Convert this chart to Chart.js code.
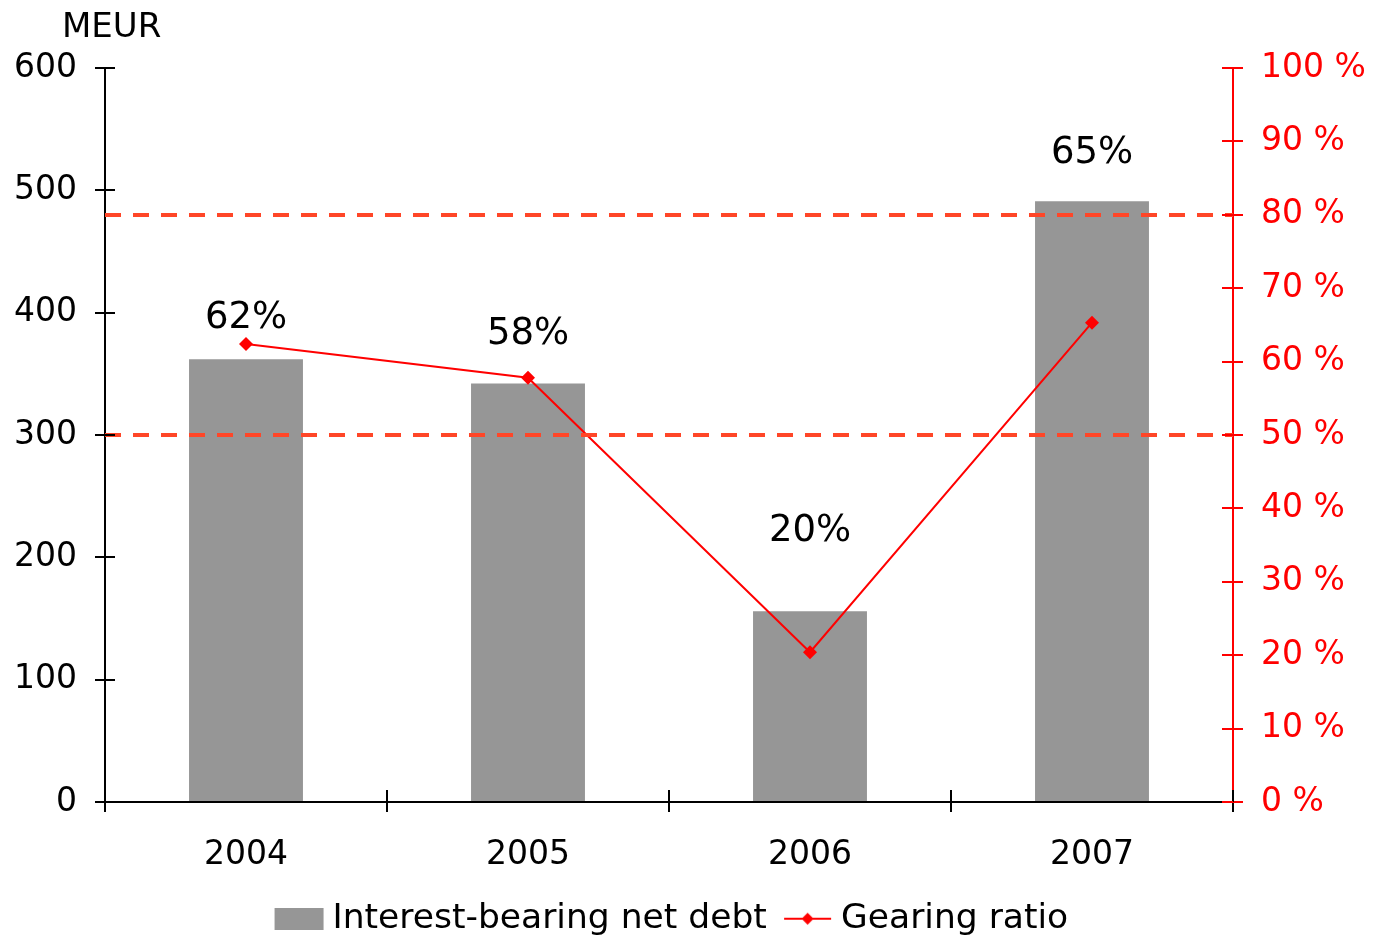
<!DOCTYPE html>
<html>
<head>
<meta charset="utf-8">
<script src="https://cdn.jsdelivr.net/npm/chart.js@4"></script>
<style>
html,body{margin:0;padding:0;background:#fff;}
#wrap{width:1382px;height:936px;position:relative;}
</style>
</head>
<body>
<div id="wrap"><canvas id="c" width="1382" height="936"></canvas></div>
<script>
const categories = ['2004', '2005', '2006', '2007'];
const netDebt = [362, 342, 156, 491];
const gearing = [62.4, 57.8, 20.4, 65.3];
const leftTicks = [0, 100, 200, 300, 400, 500, 600];
const rightTicks = [0, 10, 20, 30, 40, 50, 60, 70, 80, 90, 100];
const referenceLevels = [80, 50];
const labelLevels = [398, 385, 224, 533];

const FONT = 'DejaVu Sans, Verdana, sans-serif';
const RED = '#ff0000';
const BAR = '#969696';

// legend symbols: 64px wide canvases, symbol drawn at x 14..63
function makeBox() {
  const c = document.createElement('canvas');
  c.width = 64; c.height = 22;
  const x = c.getContext('2d');
  x.fillStyle = BAR; x.fillRect(14, 0, 49, 22);
  return c;
}
function makeLineMarker() {
  const c = document.createElement('canvas');
  c.width = 64; c.height = 14;
  const x = c.getContext('2d');
  x.strokeStyle = RED; x.lineWidth = 2;
  x.beginPath(); x.moveTo(15, 7); x.lineTo(62, 7); x.stroke();
  x.fillStyle = RED;
  x.beginPath(); x.moveTo(38.5, 1); x.lineTo(44.5, 7); x.lineTo(38.5, 13); x.lineTo(32.5, 7); x.closePath(); x.fill();
  return c;
}

const crossTicks = {
  id: 'crossTicks',
  afterDatasetsDraw(chart) {
    const ctx = chart.ctx;
    const ca = chart.chartArea;
    const y = chart.scales.y, y1 = chart.scales.y1, x = chart.scales.x;
    ctx.save();
    ctx.strokeStyle = '#ff4628';
    ctx.lineWidth = 4;
    ctx.setLineDash([16, 12]);
    referenceLevels.forEach(v => {
      const py = Math.round(y1.getPixelForValue(v));
      ctx.beginPath(); ctx.moveTo(ca.left, py); ctx.lineTo(ca.right, py); ctx.stroke();
    });
    ctx.setLineDash([]);
    ctx.lineWidth = 2;
    ctx.strokeStyle = '#000';
    leftTicks.forEach(v => {
      const py = Math.round(y.getPixelForValue(v));
      ctx.beginPath(); ctx.moveTo(ca.left, py); ctx.lineTo(ca.left + 10, py); ctx.stroke();
    });
    for (let i = 0; i <= categories.length; i++) {
      const px = Math.round(x.getPixelForValue(i - 0.5));
      ctx.beginPath(); ctx.moveTo(px, ca.bottom); ctx.lineTo(px, ca.bottom - 12); ctx.stroke();
    }
    ctx.strokeStyle = RED;
    rightTicks.forEach(v => {
      const py = Math.round(y1.getPixelForValue(v));
      ctx.beginPath(); ctx.moveTo(ca.right, py); ctx.lineTo(ca.right - 11, py); ctx.stroke();
    });
    ctx.restore();
  },
  afterDraw(chart) {
    const ctx = chart.ctx;
    const y = chart.scales.y, x = chart.scales.x;
    ctx.save();
    ctx.fillStyle = '#000';
    ctx.textAlign = 'center';
    ctx.textBaseline = 'middle';
    ctx.font = '37px ' + FONT;
    gearing.forEach((g, i) => {
      ctx.fillText(Math.round(g) + '%', x.getPixelForValue(i), y.getPixelForValue(labelLevels[i]) + 3);
    });
    ctx.font = '34px ' + FONT;
    ctx.textAlign = 'left';
    ctx.fillText('MEUR', 62, 28);
    ctx.restore();
  }
};

new Chart(document.getElementById('c'), {
  data: {
    labels: categories,
    datasets: [
      {
        type: 'line',
        label: 'Gearing ratio',
        data: gearing,
        yAxisID: 'y1',
        borderColor: RED,
        backgroundColor: RED,
        borderWidth: 2,
        pointStyle: 'rectRot',
        pointRadius: 7,
        pointBackgroundColor: RED,
        pointBorderWidth: 0,
        order: 0
      },
      {
        type: 'bar',
        label: 'Interest-bearing net debt',
        data: netDebt,
        yAxisID: 'y',
        backgroundColor: BAR,
        borderWidth: 0,
        barPercentage: 0.404,
        categoryPercentage: 1.0,
        order: 1
      }
    ]
  },
  options: {
    responsive: false,
    animation: false,
    devicePixelRatio: 1,
    layout: { padding: { top: 68, left: 0, right: 0, bottom: -10 } },
    plugins: {
      title: { display: false },
      tooltip: { enabled: false },
      legend: {
        display: true,
        position: 'bottom',
        fullSize: false,
        labels: {
          usePointStyle: true,
          pointStyleWidth: 45.5,
          boxHeight: 22,
          padding: 11.5,
          color: '#000',
          font: { family: FONT, size: 34.5 },
          generateLabels(chart) {
            return [
              { text: 'Interest-bearing net debt', pointStyle: makeBox(), fillStyle: BAR, strokeStyle: BAR, lineWidth: 0, datasetIndex: 1, fontColor: '#000' },
              { text: 'Gearing ratio', pointStyle: makeLineMarker(), fillStyle: RED, strokeStyle: RED, lineWidth: 0, datasetIndex: 0, fontColor: '#000' }
            ];
          }
        }
      }
    },
    scales: {
      x: {
        type: 'category',
        offset: true,
        grid: { display: true, drawOnChartArea: false, drawTicks: true, tickLength: 10, offset: true, color: '#000', lineWidth: 2 },
        border: { display: true, color: '#000', width: 2 },
        ticks: { color: '#000', font: { family: FONT, size: 33 }, padding: 24 },
        afterFit(s) { s.height = 88; }
      },
      y: {
        type: 'linear',
        position: 'left',
        min: 0, max: 600,
        afterBuildTicks(s) { s.ticks = leftTicks.map(v => ({ value: v })); },
        grid: { display: true, drawOnChartArea: false, drawTicks: true, tickLength: 10, color: '#000', lineWidth: 2 },
        border: { display: true, color: '#000', width: 2 },
        ticks: { color: '#000', font: { family: FONT, size: 33 }, padding: 18 },
        afterFit(s) { s.width = 105; }
      },
      y1: {
        type: 'linear',
        position: 'right',
        min: 0, max: 100,
        afterBuildTicks(s) { s.ticks = rightTicks.map(v => ({ value: v })); },
        grid: { display: true, drawOnChartArea: false, drawTicks: true, tickLength: 10, color: RED, lineWidth: 2 },
        border: { display: true, color: RED, width: 2 },
        ticks: { color: RED, font: { family: FONT, size: 33 }, padding: 18, callback: v => v + ' %' },
        afterFit(s) { s.width = 149; }
      }
    }
  },
  plugins: [crossTicks]
});
</script>
</body>
</html>
